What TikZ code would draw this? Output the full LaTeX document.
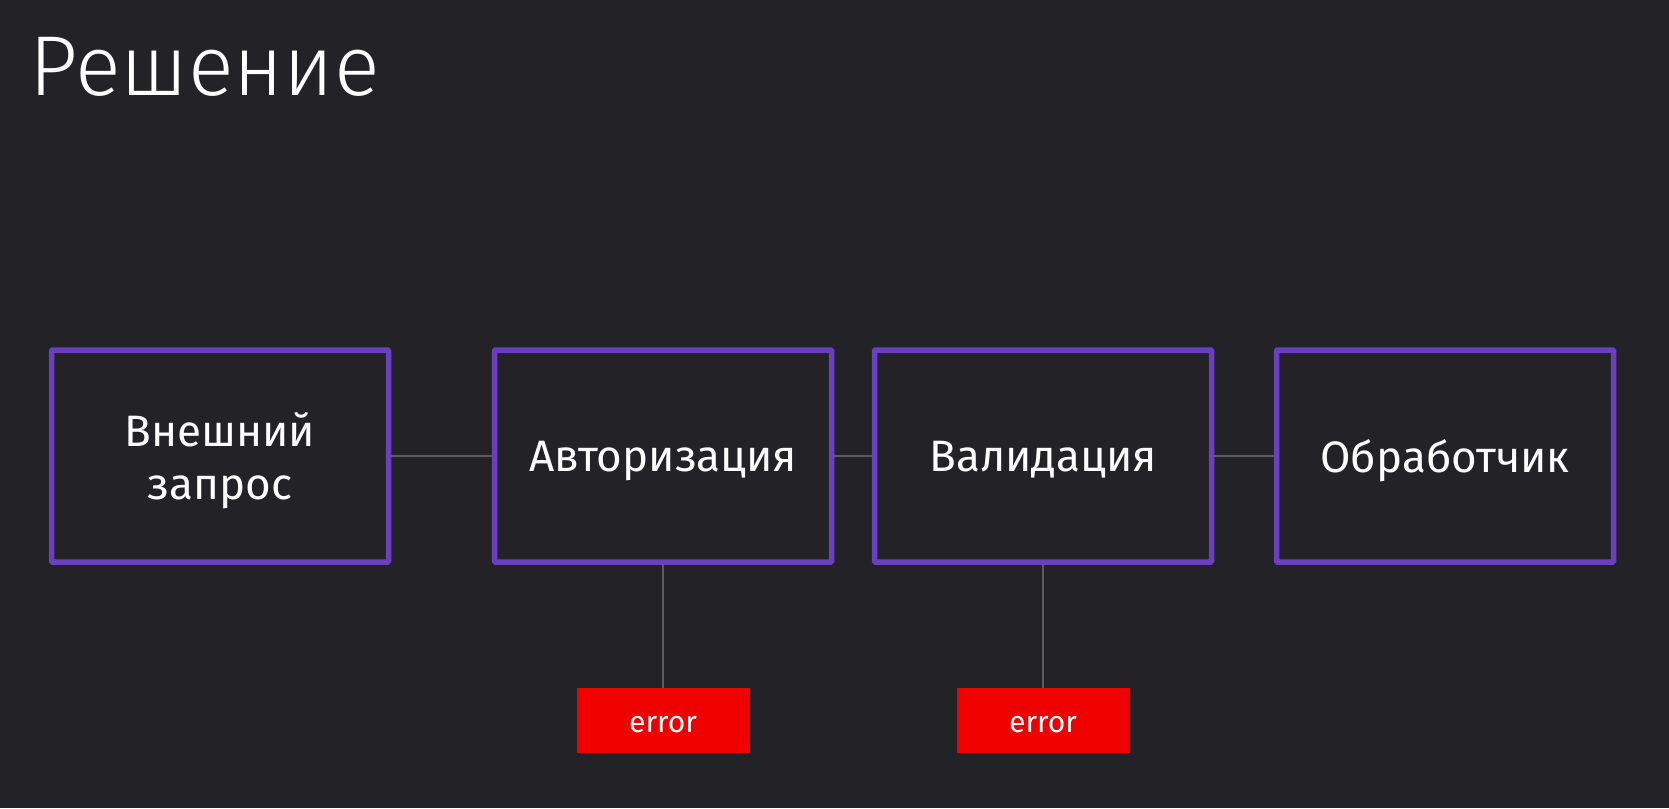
\documentclass[tikz,border=0pt]{standalone}
\usepackage{fontspec}
\setmainfont{Fira Sans}
\newfontfamily\titlefont{Fira Sans}[UprightFont=* Light]
\definecolor{bgdark}{RGB}{35,34,39}
\definecolor{stagepurple}{RGB}{106,64,192}
\definecolor{wiregray}{RGB}{92,92,96}
\definecolor{errred}{RGB}{240,0,0}
\tikzset{
  stage/.style={draw=stagepurple,line width=5.5pt,fill=bgdark,text=white,
    minimum width=337pt,minimum height=212pt,align=center,text depth=0pt,
    font=\fontsize{44}{53}\selectfont,rounded corners=1pt},
  errbox/.style={fill=errred,text=white,minimum width=173pt,minimum height=65pt,
    font=\fontsize{30}{36}\selectfont,inner sep=0pt,text height=24pt,text depth=0pt},
  wire/.style={draw=wiregray,line width=1.6pt}
}
\begin{document}
\begin{tikzpicture}[x=1pt,y=-1pt]
\fill[bgdark] (0,0) rectangle (1669,808);
\useasboundingbox (0,0) rectangle (1669,808);
\node[anchor=base west,inner sep=0pt,text=white,font=\titlefont\fontsize{85}{100}\selectfont] (title) at (29,95) {Решение};
% stages
\node[stage] (ext)     at (220,456)  {Внешний\\запрос};
\node[stage] (auth)    at (663,456)  {Авторизация};
\node[stage] (valid)   at (1043,456) {Валидация};
\node[stage] (handler) at (1445,456) {Обработчик};
% error outputs
\node[errbox] (errAuth)  at (663,720.5)  {error};
\node[errbox] (errValid) at (1043,720.5) {error};
\draw[wire] (ext) -- (auth);
\draw[wire] (auth) -- (valid);
\draw[wire] (valid) -- (handler);
\draw[wire] (auth) -- (errAuth);
\draw[wire] (valid) -- (errValid);
\end{tikzpicture}
\end{document}
